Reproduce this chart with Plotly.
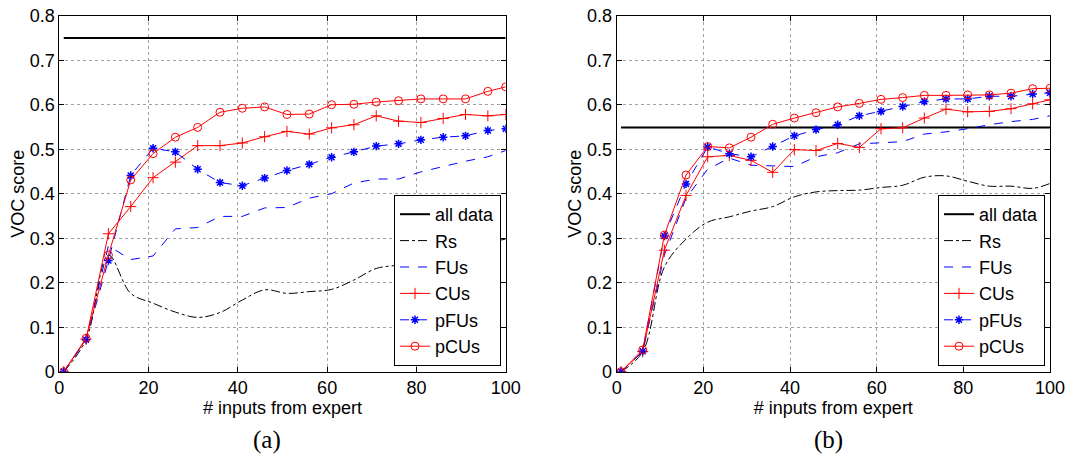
import plotly.graph_objects as go

x = [1, 6, 11, 16, 21, 26, 31, 36, 41, 46, 51, 56, 61, 66, 71, 76, 81, 86, 91, 96, 100]
x_all = [1, 100]

# Panel (a)
a_all = [0.75, 0.75]
a_rs = [0, 0.072, 0.262, 0.176, 0.154, 0.134, 0.122, 0.133, 0.161, 0.184, 0.176, 0.180,
        0.185, 0.206, 0.232, 0.240, 0.252, 0.266, 0.280, 0.290, 0.298]
a_fus = [0, 0.072, 0.283, 0.252, 0.260, 0.321, 0.324, 0.349, 0.349, 0.368, 0.369, 0.390,
         0.400, 0.424, 0.433, 0.433, 0.449, 0.461, 0.473, 0.483, 0.497]
a_cus = [0, 0.073, 0.310, 0.371, 0.436, 0.471, 0.508, 0.508, 0.514, 0.528, 0.540, 0.534,
         0.548, 0.555, 0.575, 0.563, 0.560, 0.569, 0.578, 0.575, 0.578]
a_pfus = [0, 0.072, 0.250, 0.441, 0.502, 0.494, 0.455, 0.425, 0.418, 0.435, 0.452, 0.466,
          0.482, 0.494, 0.507, 0.512, 0.521, 0.527, 0.530, 0.542, 0.546]
a_pcus = [0, 0.075, 0.262, 0.431, 0.490, 0.527, 0.549, 0.583, 0.592, 0.595, 0.578, 0.579,
          0.600, 0.601, 0.606, 0.609, 0.613, 0.613, 0.613, 0.630, 0.640]

# Panel (b)
b_all = [0.549, 0.549]
b_rs = [0, 0.045, 0.235, 0.298, 0.336, 0.348, 0.361, 0.371, 0.393, 0.404, 0.407, 0.408,
        0.414, 0.419, 0.437, 0.440, 0.428, 0.417, 0.417, 0.412, 0.423]
b_fus = [0, 0.045, 0.262, 0.390, 0.455, 0.480, 0.464, 0.463, 0.461, 0.483, 0.492, 0.512,
         0.515, 0.517, 0.534, 0.539, 0.546, 0.555, 0.562, 0.567, 0.575]
b_cus = [0, 0.045, 0.273, 0.396, 0.483, 0.486, 0.475, 0.448, 0.499, 0.497, 0.513, 0.504,
         0.546, 0.548, 0.570, 0.590, 0.584, 0.585, 0.591, 0.602, 0.611]
b_pfus = [0, 0.046, 0.305, 0.422, 0.505, 0.490, 0.483, 0.506, 0.530, 0.544, 0.555, 0.575,
          0.585, 0.596, 0.607, 0.613, 0.613, 0.619, 0.619, 0.624, 0.627]
b_pcus = [0, 0.049, 0.307, 0.442, 0.506, 0.503, 0.527, 0.556, 0.570, 0.582, 0.595, 0.603,
          0.612, 0.616, 0.621, 0.621, 0.622, 0.622, 0.626, 0.636, 0.637]

names = ["all data", "Rs", "FUs", "CUs", "pFUs", "pCUs"]
panel_labels = ["(a)", "(b)"]
x_ticks = [0, 20, 40, 60, 80, 100]
y_ticks = [0, 0.1, 0.2, 0.3, 0.4, 0.5, 0.6, 0.7, 0.8]

W, H = 1091, 458
fig = go.Figure()

panels = [
    (a_all, a_rs, a_fus, a_cus, a_pfus, a_pcus),
    (b_all, b_rs, b_fus, b_cus, b_pfus, b_pcus),
]

for i, (yall, yrs, yfus, ycus, ypfus, ypcus) in enumerate(panels):
    xa = "x" if i == 0 else "x2"
    ya = "y" if i == 0 else "y2"
    lg = "legend" if i == 0 else "legend2"
    common = dict(xaxis=xa, yaxis=ya, legend=lg)
    fig.add_trace(go.Scatter(x=x_all, y=yall, mode="lines", name=names[0],
                             line=dict(color="black", width=2), **common))
    fig.add_trace(go.Scatter(x=x, y=yrs, mode="lines", name=names[1], line_shape="spline",
                             line=dict(color="black", width=1, dash="dashdot"), **common))
    fig.add_trace(go.Scatter(x=x, y=yfus, mode="lines", name=names[2],
                             line=dict(color="blue", width=1, dash="dash"), **common))
    fig.add_trace(go.Scatter(x=x, y=ycus, mode="lines+markers", name=names[3],
                             line=dict(color="red", width=1),
                             marker=dict(symbol="cross-thin", size=8, color="red",
                                         line=dict(color="red", width=1)), **common))
    fig.add_trace(go.Scatter(x=x, y=ypfus, mode="lines+markers", name=names[4],
                             line=dict(color="blue", width=1, dash="dash"),
                             marker=dict(symbol="asterisk", size=7, color="blue",
                                         line=dict(color="blue", width=1.5)), **common))
    fig.add_trace(go.Scatter(x=x, y=ypcus, mode="lines+markers", name=names[5],
                             line=dict(color="red", width=1),
                             marker=dict(symbol="circle-open", size=8, color="red",
                                         line=dict(color="red", width=1)), **common))

font_main = dict(family="Liberation Sans, Arial, sans-serif", size=18, color="black")

def xaxis_cfg(domain, anchor):
    return dict(domain=domain, anchor=anchor, range=[0, 100], tickvals=x_ticks,
                ticks="inside", ticklen=5, tickcolor="black", showline=True,
                linecolor="black", linewidth=1, mirror="ticks", showgrid=True,
                gridcolor="#a0a0a0", griddash="dot", gridwidth=1, zeroline=False,
                automargin=False, tickfont=font_main,
                title=dict(text="# inputs from expert", font=font_main, standoff=0))

def yaxis_cfg(domain, anchor):
    return dict(domain=domain, anchor=anchor, range=[0, 0.8], tickvals=y_ticks,
                ticks="inside", ticklen=5, tickcolor="black", showline=True,
                linecolor="black", linewidth=1, mirror="ticks", showgrid=True,
                gridcolor="#a0a0a0", griddash="dot", gridwidth=1, zeroline=False,
                automargin=False, tickfont=font_main,
                title=dict(text="VOC score", font=font_main, standoff=0))

xd1 = [59.3 / W, 505.7 / W]
xd2 = [616.7 / W, 1050 / W]
yd = [(H - 371.7) / H, (H - 15.7) / H]

legend_common = dict(bgcolor="white", bordercolor="black", borderwidth=1,
                     font=font_main, xanchor="right", yanchor="bottom",
                     tracegroupgap=0, itemwidth=30)

fig.update_layout(
    width=W, height=H,
    margin=dict(l=0, r=0, t=0, b=0),
    paper_bgcolor="white", plot_bgcolor="white",
    xaxis=xaxis_cfg(xd1, "y"), yaxis=yaxis_cfg(yd, "x"),
    xaxis2=xaxis_cfg(xd2, "y2"), yaxis2=yaxis_cfg(yd, "x2"),
    legend=dict(x=501 / W, y=(H - 366) / H, **legend_common),
    legend2=dict(x=1045 / W, y=(H - 366) / H, **legend_common),
    showlegend=True,
)

for lab, xc in zip(panel_labels, [267, 828]):
    fig.add_annotation(text=lab, x=xc / W, y=(H - 440) / H, xref="paper", yref="paper",
                       showarrow=False, xanchor="center", yanchor="middle",
                       font=dict(family="Liberation Serif, Times New Roman, serif",
                                 size=25, color="black"))

fig.write_html("out.html", config={"displayModeBar": False},
               post_script="document.body.style.margin='0';document.body.style.overflow='hidden';")
